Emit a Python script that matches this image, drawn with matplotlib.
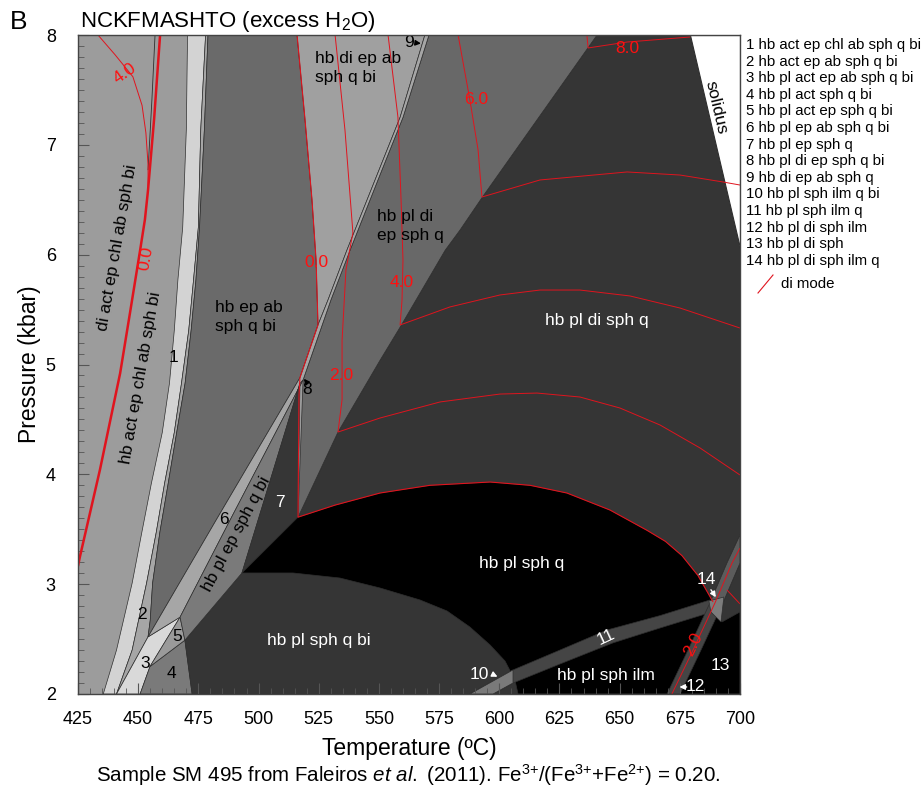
import numpy as np
import matplotlib.pyplot as plt
from matplotlib.patches import Polygon

plt.rcParams['font.family'] = ['Liberation Sans', 'DejaVu Sans']
plt.rcParams['mathtext.fontset'] = 'custom'
plt.rcParams['mathtext.rm'] = 'Liberation Sans'
plt.rcParams['mathtext.it'] = 'Liberation Sans:italic'

# ---- field boundaries, (T degC, P kbar) ----
chl_q_left = [(470.5, 8.0), (470.0, 7.14), (468.5, 6.25), (466.5, 5.77), (465.0, 5.31), (463.0, 4.83),
              (460.0, 4.38), (455.5, 3.92), (451.5, 3.47), (447.5, 3.01), (441.0, 2.40), (435.5, 2.0)]
chl_q_right = [(478.0, 8.0), (476.0, 7.14), (475.0, 6.25), (473.0, 5.77), (471.0, 5.31), (468.0, 4.83),
               (465.0, 4.38), (461.0, 3.92), (457.5, 3.47), (453.5, 3.01), (447.5, 2.40), (441.0, 2.0)]
act_out = [(479.0, 8.0), (477.5, 7.14), (475.5, 6.25), (474.0, 5.77), (472.0, 5.31), (469.5, 4.83),
           (466.0, 4.38), (462.5, 3.92), (459.0, 3.47), (456.0, 3.01), (455.0, 2.67), (454.1, 2.52)]
ab_out = [(454.1, 2.52), (482.3, 3.58), (517.2, 4.88), (524.7, 5.36), (528.9, 5.59), (536.7, 6.04),
          (548.4, 6.68), (558.8, 7.25), (569.1, 8.0)]
pl_in = [(467.4, 2.70), (488.1, 3.58), (518.5, 4.86), (530.1, 5.59), (538.0, 6.04),
         (549.6, 6.68), (560.0, 7.25), (570.8, 8.0)]
ep_out = [(516.4, 3.61), (533.0, 4.385), (550.5, 5.04), (558.8, 5.34), (577.5, 6.04),
          (583.7, 6.225), (593.0, 6.525), (640.6, 8.0)]
di_in_hi = [(516.0, 8.0), (519.3, 7.23), (522.2, 6.50), (523.9, 5.95), (524.7, 5.36)]
di_in_lo = [(517.2, 4.88), (516.8, 4.72), (516.4, 3.61)]
di_out = [(516.4, 3.61), (531.8, 3.72), (550.5, 3.83), (571.2, 3.90), (596.2, 3.93), (612.8, 3.90),
          (628.1, 3.83), (646.0, 3.675), (661.4, 3.49), (669.0, 3.39), (675.9, 3.26), (682.5, 3.08),
          (688.8, 2.838)]
bi_out = [(493.1, 3.102), (514.3, 3.102), (533.8, 3.056), (550.5, 2.965), (567.1, 2.856), (578.3, 2.756),
          (587.8, 2.610), (596.2, 2.446), (602.4, 2.300), (606.5, 2.127), (607.8, 2.0)]
ilm_top = [(587.8, 2.0), (605.7, 2.219), (625.2, 2.40), (644.8, 2.583), (666.8, 2.714), (687.5, 2.856)]
ilm_bot = [(597.4, 2.0), (605.7, 2.10), (625.2, 2.273), (647.2, 2.465), (666.8, 2.601), (688.4, 2.747)]
q_out_left = [(669.7, 2.0), (678.4, 2.40), (687.5, 2.829), (694.6, 3.193), (700.0, 3.448)]
q_out_right = [(675.1, 2.0), (683.8, 2.40), (692.9, 2.829), (700.0, 3.193)]
f3_lines = [(469.4, 2.49), (493.1, 3.102)]
f7_tip = (517.2, 4.83)
f3 = [(441.0, 2.0), (454.1, 2.52), (467.4, 2.70), (454.9, 2.25), (450.8, 2.0)]
f4 = [(454.9, 2.25), (469.4, 2.49), (472.4, 2.0), (450.8, 2.0)]
f5 = [(467.4, 2.70), (469.4, 2.49), (454.9, 2.25)]
f14 = [(687.1, 2.847), (693.3, 2.883), (692.1, 2.656), (687.9, 2.747)]
solidus = [(679.3, 8.0), (700.0, 8.0), (700.0, 6.06)]
di_ep_split = [(457.0, 8.0), (455.7, 7.41), (454.1, 6.77)]

# ---- di mode isopleths ----
di0_left = [(459.1, 8.0), (456.6, 7.23), (454.1, 6.59), (452.8, 6.32), (450.8, 6.04), (446.6, 5.47),
            (442.5, 4.92), (434.1, 4.04), (425.8, 3.25), (425.0, 3.165)]
di4_left = [(433.3, 8.0), (440.4, 7.82), (447.8, 7.62), (451.6, 7.36), (453.2, 7.11), (454.1, 6.82), (454.1, 6.62)]
di0 = di_in_hi + di_in_lo + di_out[1:]
di2 = [(531.8, 8.0), (535.9, 7.135), (539.2, 6.20), (536.3, 5.86), (534.7, 5.22), (534.7, 4.68), (533.0, 4.385),
       (550.5, 4.513), (575.4, 4.659), (600.3, 4.731), (615.7, 4.74), (633.5, 4.704), (650.1, 4.604),
       (666.8, 4.449), (683.4, 4.24), (700.0, 3.994)]
di4 = [(553.8, 8.0), (557.9, 7.253), (559.2, 6.498), (560.0, 5.951), (559.6, 5.587), (558.8, 5.36),
       (579.5, 5.524), (600.3, 5.633), (616.9, 5.678), (633.5, 5.678), (654.3, 5.624), (675.1, 5.514),
       (700.0, 5.332)]
di6 = [(582.9, 8.0), (587.8, 7.408), (591.2, 6.953), (592.8, 6.525), (616.9, 6.68), (653.1, 6.753),
       (675.1, 6.725), (692.9, 6.662), (700.0, 6.634)]
di8 = [(636.4, 8.0), (636.9, 7.882), (653.1, 7.936), (679.3, 7.982)]
di2_right = [(671.7, 2.0), (680.5, 2.401), (689.6, 2.829), (696.7, 3.193), (700.0, 3.329)]
di0_right = [(694.6, 2.947), (700.0, 2.820)]

legend_items = ['hb act ep chl ab sph q bi', 'hb act ep ab sph q bi', 'hb pl act ep ab sph q bi',
                'hb pl act sph q bi', 'hb pl act ep sph q bi', 'hb pl ep ab sph q bi', 'hb pl ep sph q',
                'hb pl di ep sph q bi', 'hb di ep ab sph q', 'hb pl sph ilm q bi', 'hb pl sph ilm q',
                'hb pl di sph ilm', 'hb pl di sph', 'hb pl di sph ilm q']

fig = plt.figure(figsize=(9.22, 7.91), dpi=100)
ax = fig.add_axes([78 / 922, 1 - 694 / 791, 662 / 922, 659 / 791])
ax.set_xlim(425, 700)
ax.set_ylim(2, 8)
ax.set_facecolor('#9c9c9c')

EDGE = '#2e2e2e'


def fill(pts, color, z=1, lw=0.5):
    ax.add_patch(Polygon(pts, closed=True, facecolor=color, edgecolor=EDGE, lw=lw, zorder=z))


# fields, back to front
fill(chl_q_left + chl_q_right[::-1], '#d3d3d3')
fill(chl_q_right + act_out[::-1], '#a6a6a6')
fill(f3, '#d9d9d9')
fill(f4, '#7a7a7a')
fill(f5, '#9a9a9a')
fill(act_out + ab_out[1:4] + di_in_hi[::-1], '#6a6a6a')
fill(di_in_hi + ab_out[3:], '#a0a0a0')
fill(ep_out[::-1] + [f3_lines[1], f3_lines[0], (472.4, 2.0), (700, 2.0), (700, 8.0)], '#353535')
fill(pl_in[2:][::-1] + ep_out, '#686868')
fill(ab_out + pl_in[::-1], '#a6a6a6')
fill(pl_in[:3] + [f7_tip, f3_lines[1], f3_lines[0]], '#7a7a7a')
fill([f7_tip, ep_out[0], f3_lines[1]], '#363636')
fill([bi_out[0]] + di_out + [(692.5, 2.656), (700, 2.747), (700, 2.0)] + bi_out[::-1][:-1], '#000000')
fill(ilm_top + ilm_bot[::-1], '#454545')
fill([ilm_top[0], ilm_top[1], ilm_bot[1], ilm_bot[0]], '#7a7a7a')
fill(q_out_left + q_out_right[::-1], '#454545')
fill(q_out_left[2:] + q_out_right[2:][::-1], '#5c5c5c')
fill(f14, '#7c7c7c')
fill(solidus, 'white', lw=0.8)

# di mode isopleths
RED = '#e0141e'
def line(pts, lw=0.7, color=RED, z=3):
    t, p = zip(*pts)
    ax.plot(t, p, color=color, lw=lw, zorder=z, solid_capstyle='butt')

line(di_ep_split, lw=0.6, color=EDGE)
line(di0_left, lw=1.8)
line(di4_left)
line(di0, lw=0.8)
line(di2)
line(di4)
line(di6)
line(di8)
line(di2_right)
line(di0_right)

FS = 12.5
def lab(x, y, s, color='black', rot=0, ha='center', **kw):
    ax.text(x, y, s, color=color, rotation=rot, ha=ha, va='center', fontsize=FS,
            rotation_mode='anchor', zorder=5, **kw)

# field labels
lab(523.5, 7.70, 'hb di ep ab\nsph q bi', ha='left', linespacing=1.3)
lab(549.2, 6.26, 'hb pl di\nep sph q', ha='left', linespacing=1.3)
lab(481.9, 5.43, 'hb ep ab\nsph q bi', ha='left', linespacing=1.3)
lab(640.6, 5.40, 'hb pl di sph q', color='white')
lab(609.4, 3.19, 'hb pl sph q', color='white')
lab(525.1, 2.49, 'hb pl sph q bi', color='white')
lab(644.3, 2.17, 'hb pl sph ilm', color='white')
lab(690.0, 7.34, 'solidus', rot=-77)
lab(441.2, 6.06, 'di act ep chl ab sph bi', rot=80)
lab(451.2, 4.88, 'hb act ep chl ab sph bi', rot=80)
lab(490.6, 3.46, 'hb pl ep sph q bi', rot=62)

# numbered small fields
for x, y, s, c in [(464.5, 5.06, '1', 'black'), (451.6, 2.72, '2', 'black'), (452.8, 2.28, '3', 'black'),
                   (464.0, 2.19, '4', 'black'), (466.1, 2.52, '5', 'black'), (485.6, 3.59, '6', 'black'),
                   (508.9, 3.74, '7', 'white'), (520.1, 4.77, '8', 'black'), (562.6, 7.93, '9', 'black'),
                   (591.6, 2.18, '10', 'white'), (691.7, 2.26, '13', 'white'), (681.4, 2.064, '12', 'white'),
                   (685.9, 3.04, '14', 'white')]:
    lab(x, y, s, color=c)
lab(644.3, 2.52, '11', color='white', rot=25)

arr = dict(arrowstyle='-|>', lw=1.0, mutation_scale=8)
for tail, head, c in [((520.3, 4.83), (518.1, 4.89), 'black'), ((564.6, 7.93), (568.6, 7.92), 'black'),
                      ((596.2, 2.19), (600.3, 2.146), 'white'), ((679.0, 2.064), (673.7, 2.064), 'white'),
                      ((687.3, 2.97), (690.6, 2.86), 'white')]:
    ax.annotate('', xy=head, xytext=tail, arrowprops=dict(arr, color=c), zorder=6)

# isopleth values
for x, y, s, r in [(444.5, 7.65, '4.0', 35), (453.2, 5.97, '0.0', 80), (523.9, 5.93, '0.0', 0),
                   (534.3, 4.90, '2.0', 0), (559.6, 5.75, '4.0', 0), (590.3, 7.41, '6.0', 0),
                   (653.1, 7.88, '8.0', 0), (680.5, 2.455, '2.0', 64)]:
    lab(x, y, s, color='#ff1010', rot=r)

# axes
ax.set_xticks(np.arange(425, 701, 25))
ax.set_yticks(np.arange(2, 9, 1))
ax.set_xticks(np.arange(425, 701, 5), minor=True)
ax.set_yticks(np.arange(2, 8.01, 0.1), minor=True)
ax.tick_params(which='both', direction='in', color='#555555', labelsize=13)
ax.tick_params(which='major', length=8, width=0.8)
ax.tick_params(which='minor', length=4, width=0.6)
ax.tick_params(axis='x', pad=12)
ax.tick_params(axis='y', pad=16)
for s in ax.spines.values():
    s.set_color('#444444')
    s.set_linewidth(1.0)
    s.set_zorder(7)
ax.set_xlabel('Temperature (ºC)', fontsize=16.5, labelpad=7)
ax.set_ylabel('Pressure (kbar)', fontsize=16.5, labelpad=3)

fig.text(10 / 922, 1 - 22 / 791, 'B', fontsize=19, va='center')
fig.text(80 / 922, 1 - 22 / 791, 'NCKFMASHTO (excess H$_2$O)', fontsize=16, va='center')
fig.text(408 / 922, 1 - 775 / 791,
         'Sample SM 495 from Faleiros $\\mathit{et\\ al.}$ (2011). '
         'Fe$^{3{+}}$/(Fe$^{3{+}}$+Fe$^{2{+}}$) = 0.20.',
         fontsize=14.8, ha='center', va='center')

# numbered legend
for i, item in enumerate(legend_items):
    fig.text(746 / 922, 1 - (45 + 16.6 * i) / 791, f'{i + 1} {item}', fontsize=10.8, va='center')
fig.add_artist(plt.Line2D([758 / 922, 773 / 922], [1 - 293 / 791, 1 - 275 / 791], color=RED, lw=0.8))
fig.text(781 / 922, 1 - 284 / 791, 'di mode', fontsize=10.8, va='center')

fig.savefig('out.png', dpi=100)
